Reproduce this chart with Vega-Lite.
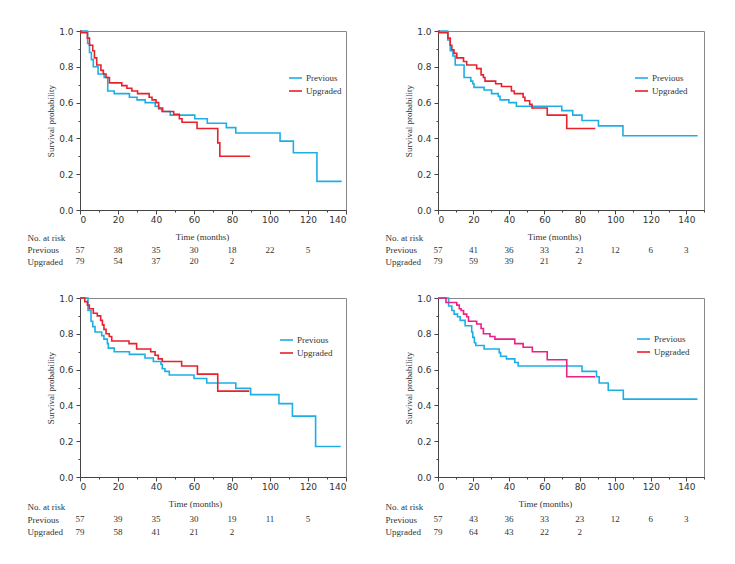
{
"$schema": "https://vega.github.io/schema/vega-lite/v6.json",
"padding": {"left": 27, "top": 26, "right": 5, "bottom": 5},
"background": "white",
"resolve": {"scale": {"color": "independent"}, "legend": {"color": "independent"}},
"datasets": {
"km1": [
{"g":"Previous","t":0,"s":1},{"g":"Previous","t":4,"s":0.93},{"g":"Previous","t":5,"s":0.88},{"g":"Previous","t":6,"s":0.84},{"g":"Previous","t":7,"s":0.8},{"g":"Previous","t":9.5,"s":0.76},{"g":"Previous","t":12.7,"s":0.74},{"g":"Previous","t":14.6,"s":0.665},{"g":"Previous","t":18,"s":0.65},{"g":"Previous","t":26,"s":0.63},{"g":"Previous","t":30,"s":0.615},{"g":"Previous","t":34.3,"s":0.6},{"g":"Previous","t":39.6,"s":0.58},{"g":"Previous","t":41.4,"s":0.565},{"g":"Previous","t":43,"s":0.55},{"g":"Previous","t":47.5,"s":0.53},{"g":"Previous","t":60.4,"s":0.51},{"g":"Previous","t":67,"s":0.485},{"g":"Previous","t":77,"s":0.46},{"g":"Previous","t":82,"s":0.43},{"g":"Previous","t":105.3,"s":0.385},{"g":"Previous","t":112.3,"s":0.32},{"g":"Previous","t":124.7,"s":0.16},{"g":"Previous","t":137.7,"s":0.16},
{"g":"Upgraded","t":0,"s":1},{"g":"Upgraded","t":0.5,"s":0.99},{"g":"Upgraded","t":3.9,"s":0.96},{"g":"Upgraded","t":5,"s":0.92},{"g":"Upgraded","t":6.7,"s":0.89},{"g":"Upgraded","t":7.6,"s":0.85},{"g":"Upgraded","t":8.8,"s":0.81},{"g":"Upgraded","t":11,"s":0.78},{"g":"Upgraded","t":12.3,"s":0.76},{"g":"Upgraded","t":13.7,"s":0.74},{"g":"Upgraded","t":15.5,"s":0.71},{"g":"Upgraded","t":22,"s":0.695},{"g":"Upgraded","t":24.7,"s":0.68},{"g":"Upgraded","t":27.3,"s":0.665},{"g":"Upgraded","t":30.3,"s":0.65},{"g":"Upgraded","t":36.4,"s":0.63},{"g":"Upgraded","t":37.9,"s":0.615},{"g":"Upgraded","t":40,"s":0.6},{"g":"Upgraded","t":41.4,"s":0.57},{"g":"Upgraded","t":43.5,"s":0.55},{"g":"Upgraded","t":49.3,"s":0.535},{"g":"Upgraded","t":52.3,"s":0.51},{"g":"Upgraded","t":53.7,"s":0.49},{"g":"Upgraded","t":61.6,"s":0.455},{"g":"Upgraded","t":72.5,"s":0.375},{"g":"Upgraded","t":73.6,"s":0.3},{"g":"Upgraded","t":89.5,"s":0.3}
],
"km2": [
{"g":"Previous","t":0,"s":1},{"g":"Previous","t":5.5,"s":0.95},{"g":"Previous","t":6.9,"s":0.89},{"g":"Previous","t":8.4,"s":0.86},{"g":"Previous","t":9.7,"s":0.81},{"g":"Previous","t":14.7,"s":0.74},{"g":"Previous","t":18.5,"s":0.72},{"g":"Previous","t":19.6,"s":0.705},{"g":"Previous","t":20.3,"s":0.685},{"g":"Previous","t":26,"s":0.67},{"g":"Previous","t":30.2,"s":0.65},{"g":"Previous","t":34,"s":0.635},{"g":"Previous","t":35,"s":0.615},{"g":"Previous","t":40,"s":0.6},{"g":"Previous","t":44.2,"s":0.58},{"g":"Previous","t":69.8,"s":0.555},{"g":"Previous","t":76,"s":0.53},{"g":"Previous","t":81.2,"s":0.5},{"g":"Previous","t":90.5,"s":0.47},{"g":"Previous","t":104.3,"s":0.415},{"g":"Previous","t":146.4,"s":0.415},
{"g":"Upgraded","t":0,"s":1},{"g":"Upgraded","t":0.5,"s":0.99},{"g":"Upgraded","t":5.6,"s":0.96},{"g":"Upgraded","t":6.9,"s":0.92},{"g":"Upgraded","t":7.8,"s":0.895},{"g":"Upgraded","t":9,"s":0.875},{"g":"Upgraded","t":10.6,"s":0.85},{"g":"Upgraded","t":14.4,"s":0.83},{"g":"Upgraded","t":16.2,"s":0.81},{"g":"Upgraded","t":21.8,"s":0.79},{"g":"Upgraded","t":24.3,"s":0.755},{"g":"Upgraded","t":25.6,"s":0.74},{"g":"Upgraded","t":26.5,"s":0.72},{"g":"Upgraded","t":32.5,"s":0.705},{"g":"Upgraded","t":35.8,"s":0.69},{"g":"Upgraded","t":41.4,"s":0.665},{"g":"Upgraded","t":43,"s":0.65},{"g":"Upgraded","t":48,"s":0.63},{"g":"Upgraded","t":49,"s":0.61},{"g":"Upgraded","t":51.7,"s":0.59},{"g":"Upgraded","t":53,"s":0.57},{"g":"Upgraded","t":61.6,"s":0.53},{"g":"Upgraded","t":72.6,"s":0.455},{"g":"Upgraded","t":88.7,"s":0.455}
],
"km3": [
{"g":"Previous","t":0,"s":1},{"g":"Previous","t":4.2,"s":0.93},{"g":"Previous","t":5.8,"s":0.87},{"g":"Previous","t":6.7,"s":0.84},{"g":"Previous","t":7.9,"s":0.81},{"g":"Previous","t":11.4,"s":0.79},{"g":"Previous","t":12.6,"s":0.77},{"g":"Previous","t":14.4,"s":0.745},{"g":"Previous","t":14.9,"s":0.72},{"g":"Previous","t":18,"s":0.7},{"g":"Previous","t":26,"s":0.685},{"g":"Previous","t":34.2,"s":0.665},{"g":"Previous","t":38.6,"s":0.645},{"g":"Previous","t":42.6,"s":0.63},{"g":"Previous","t":43.3,"s":0.605},{"g":"Previous","t":44.7,"s":0.59},{"g":"Previous","t":47,"s":0.57},{"g":"Previous","t":60,"s":0.55},{"g":"Previous","t":66.7,"s":0.525},{"g":"Previous","t":82,"s":0.495},{"g":"Previous","t":89.8,"s":0.46},{"g":"Previous","t":104.7,"s":0.41},{"g":"Previous","t":111.8,"s":0.34},{"g":"Previous","t":124,"s":0.17},{"g":"Previous","t":137.2,"s":0.17},
{"g":"Upgraded","t":0,"s":1},{"g":"Upgraded","t":2.5,"s":0.98},{"g":"Upgraded","t":3.9,"s":0.96},{"g":"Upgraded","t":4.9,"s":0.94},{"g":"Upgraded","t":7,"s":0.915},{"g":"Upgraded","t":9.1,"s":0.9},{"g":"Upgraded","t":10.9,"s":0.875},{"g":"Upgraded","t":11.8,"s":0.85},{"g":"Upgraded","t":12.6,"s":0.825},{"g":"Upgraded","t":13.7,"s":0.8},{"g":"Upgraded","t":15.4,"s":0.785},{"g":"Upgraded","t":16.7,"s":0.76},{"g":"Upgraded","t":25.8,"s":0.745},{"g":"Upgraded","t":29.8,"s":0.715},{"g":"Upgraded","t":37.2,"s":0.7},{"g":"Upgraded","t":39.5,"s":0.68},{"g":"Upgraded","t":41.2,"s":0.66},{"g":"Upgraded","t":43.3,"s":0.645},{"g":"Upgraded","t":53.5,"s":0.62},{"g":"Upgraded","t":61.8,"s":0.575},{"g":"Upgraded","t":72.5,"s":0.48},{"g":"Upgraded","t":89.1,"s":0.48}
],
"km4": [
{"g":"Previous","t":0,"s":1},{"g":"Previous","t":6,"s":0.955},{"g":"Previous","t":7.8,"s":0.93},{"g":"Previous","t":9.1,"s":0.91},{"g":"Previous","t":11,"s":0.895},{"g":"Previous","t":12.5,"s":0.875},{"g":"Previous","t":15.3,"s":0.845},{"g":"Previous","t":19,"s":0.81},{"g":"Previous","t":19.6,"s":0.78},{"g":"Previous","t":20.5,"s":0.75},{"g":"Previous","t":21.3,"s":0.735},{"g":"Previous","t":26,"s":0.715},{"g":"Previous","t":34.5,"s":0.695},{"g":"Previous","t":35.3,"s":0.675},{"g":"Previous","t":38.6,"s":0.66},{"g":"Previous","t":43.3,"s":0.64},{"g":"Previous","t":45.2,"s":0.62},{"g":"Previous","t":81.2,"s":0.59},{"g":"Previous","t":89.4,"s":0.56},{"g":"Previous","t":90.9,"s":0.525},{"g":"Previous","t":96,"s":0.485},{"g":"Previous","t":104.5,"s":0.435},{"g":"Previous","t":146.3,"s":0.435},
{"g":"Upgraded","t":0,"s":1},{"g":"Upgraded","t":4.5,"s":0.975},{"g":"Upgraded","t":10.6,"s":0.96},{"g":"Upgraded","t":12,"s":0.94},{"g":"Upgraded","t":13,"s":0.93},{"g":"Upgraded","t":14.4,"s":0.91},{"g":"Upgraded","t":16.2,"s":0.895},{"g":"Upgraded","t":17.2,"s":0.87},{"g":"Upgraded","t":21.8,"s":0.855},{"g":"Upgraded","t":24.3,"s":0.83},{"g":"Upgraded","t":25.6,"s":0.8},{"g":"Upgraded","t":29.3,"s":0.785},{"g":"Upgraded","t":32.1,"s":0.77},{"g":"Upgraded","t":43.3,"s":0.745},{"g":"Upgraded","t":48,"s":0.725},{"g":"Upgraded","t":53.2,"s":0.7},{"g":"Upgraded","t":61.6,"s":0.655},{"g":"Upgraded","t":72.6,"s":0.56},{"g":"Upgraded","t":88.7,"s":0.56}
],
"risk1": [
{"row":"Previous","t":0,"n":57},{"row":"Previous","t":20,"n":38},{"row":"Previous","t":40,"n":35},{"row":"Previous","t":60,"n":30},{"row":"Previous","t":80,"n":18},{"row":"Previous","t":100,"n":22},{"row":"Previous","t":120,"n":5},
{"row":"Upgraded","t":0,"n":79},{"row":"Upgraded","t":20,"n":54},{"row":"Upgraded","t":40,"n":37},{"row":"Upgraded","t":60,"n":20},{"row":"Upgraded","t":80,"n":2}
],
"risk2": [
{"row":"Previous","t":0,"n":57},{"row":"Previous","t":20,"n":41},{"row":"Previous","t":40,"n":36},{"row":"Previous","t":60,"n":33},{"row":"Previous","t":80,"n":21},{"row":"Previous","t":100,"n":12},{"row":"Previous","t":120,"n":6},{"row":"Previous","t":140,"n":3},
{"row":"Upgraded","t":0,"n":79},{"row":"Upgraded","t":20,"n":59},{"row":"Upgraded","t":40,"n":39},{"row":"Upgraded","t":60,"n":21},{"row":"Upgraded","t":80,"n":2}
],
"risk3": [
{"row":"Previous","t":0,"n":57},{"row":"Previous","t":20,"n":39},{"row":"Previous","t":40,"n":35},{"row":"Previous","t":60,"n":30},{"row":"Previous","t":80,"n":19},{"row":"Previous","t":100,"n":11},{"row":"Previous","t":120,"n":5},
{"row":"Upgraded","t":0,"n":79},{"row":"Upgraded","t":20,"n":58},{"row":"Upgraded","t":40,"n":41},{"row":"Upgraded","t":60,"n":21},{"row":"Upgraded","t":80,"n":2}
],
"risk4": [
{"row":"Previous","t":0,"n":57},{"row":"Previous","t":20,"n":43},{"row":"Previous","t":40,"n":36},{"row":"Previous","t":60,"n":33},{"row":"Previous","t":80,"n":23},{"row":"Previous","t":100,"n":12},{"row":"Previous","t":120,"n":6},{"row":"Previous","t":140,"n":3},
{"row":"Upgraded","t":0,"n":79},{"row":"Upgraded","t":20,"n":64},{"row":"Upgraded","t":40,"n":43},{"row":"Upgraded","t":60,"n":22},{"row":"Upgraded","t":80,"n":2}
]
},
"spacing": 25,
"vconcat": [
{"resolve": {"scale": {"color": "independent"}, "legend": {"color": "independent"}}, "spacing": 38, "hconcat": [
 {"spacing": 7, "vconcat": [
  {"width": 266, "height": 179, "data": {"name": "km1"},
   "layer": [
    {"transform": [{"filter": "datum.g === 'Previous'"}],
     "mark": {"type": "line", "interpolate": "step-after", "strokeWidth": 1.6},
     "encoding": {
      "x": {"field": "t", "type": "quantitative", "scale": {"domain": [0, 140], "nice": false}, "axis": {"orient": "bottom", "values": [0,20,40,60,80,100,120,140], "tickSize": 4, "labelPadding": 1, "title": null}},
      "y": {"field": "s", "type": "quantitative", "scale": {"domain": [0, 1], "nice": false}, "axis": {"orient": "left", "values": [0,0.2,0.4,0.6,0.8,1], "format": ".1f", "tickSize": 4, "labelPadding": 3, "title": "Survival probability", "titlePadding": 3}},
      "color": {"field": "g", "type": "nominal", "scale": {"domain": ["Previous", "Upgraded"], "range": ["#1eaee6", "#e8212b"]},
       "legend": {"orient": "none", "legendX": 208, "legendY": 39.5, "title": null, "symbolType": "stroke", "symbolSize": 169, "symbolStrokeWidth": 1.6, "labelFont": "Liberation Serif", "labelFontSize": 9, "labelColor": "#333", "rowPadding": 0, "padding": 0, "labelOffset": 3}}
     }},
    {"transform": [{"filter": "datum.g === 'Upgraded'"}],
     "mark": {"type": "line", "interpolate": "step-after", "strokeWidth": 1.6},
     "encoding": {
      "x": {"field": "t", "type": "quantitative", "axis": {"orient": "bottom", "values": [10,30,50,70,90,110,130], "tickSize": 2, "labels": false, "domain": false, "title": null}},
      "y": {"field": "s", "type": "quantitative", "axis": {"orient": "left", "values": [0.1,0.3,0.5,0.7,0.9], "tickSize": 2, "labels": false, "domain": false, "title": null}},
      "color": {"field": "g", "type": "nominal"}
     }}
   ],
   "resolve": {"axis": {"x": "independent", "y": "independent"}}
  },
  {"width": 266, "height": {"step": 11.7}, "data": {"name": "risk1"}, "view": {"stroke": null},
   "mark": {"type": "text", "font": "Liberation Serif", "fontSize": 9, "color": "#333"},
   "encoding": {
    "x": {"field": "t", "type": "quantitative", "scale": {"domain": [0, 140], "nice": false}, "axis": {"orient": "top", "labels": false, "ticks": false, "domain": false, "title": "Time (months)", "titleX": 122, "titleY": 4, "titleBaseline": "middle", "titleAlign": "center"}},
    "y": {"field": "row", "type": "nominal", "scale": {"domain": ["No. at risk", "Previous", "Upgraded"]}, "axis": {"title": null, "domain": false, "ticks": false, "tickSize": 0, "labelAlign": "left", "labelPadding": 53, "labelFont": "Liberation Serif", "labelFontSize": 9, "labelColor": "#333"}},
    "text": {"field": "n", "type": "nominal"}
   }}
 ]},
 {"spacing": 7, "vconcat": [
  {"width": 266, "height": 179, "data": {"name": "km2"},
   "layer": [
    {"transform": [{"filter": "datum.g === 'Previous'"}],
     "mark": {"type": "line", "interpolate": "step-after", "strokeWidth": 1.6},
     "encoding": {
      "x": {"field": "t", "type": "quantitative", "scale": {"domain": [0, 150], "nice": false}, "axis": {"orient": "bottom", "values": [0,20,40,60,80,100,120,140], "tickSize": 4, "labelPadding": 1, "title": null}},
      "y": {"field": "s", "type": "quantitative", "scale": {"domain": [0, 1], "nice": false}, "axis": {"orient": "left", "values": [0,0.2,0.4,0.6,0.8,1], "format": ".1f", "tickSize": 4, "labelPadding": 3, "title": "Survival probability", "titlePadding": 3}},
      "color": {"field": "g", "type": "nominal", "scale": {"domain": ["Previous", "Upgraded"], "range": ["#1eaee6", "#e8212b"]},
       "legend": {"orient": "none", "legendX": 196, "legendY": 39.5, "title": null, "symbolType": "stroke", "symbolSize": 169, "symbolStrokeWidth": 1.6, "labelFont": "Liberation Serif", "labelFontSize": 9, "labelColor": "#333", "rowPadding": 0, "padding": 0, "labelOffset": 3}}
     }},
    {"transform": [{"filter": "datum.g === 'Upgraded'"}],
     "mark": {"type": "line", "interpolate": "step-after", "strokeWidth": 1.6},
     "encoding": {
      "x": {"field": "t", "type": "quantitative", "axis": {"orient": "bottom", "values": [10,30,50,70,90,110,130,150], "tickSize": 2, "labels": false, "domain": false, "title": null}},
      "y": {"field": "s", "type": "quantitative", "axis": {"orient": "left", "values": [0.1,0.3,0.5,0.7,0.9], "tickSize": 2, "labels": false, "domain": false, "title": null}},
      "color": {"field": "g", "type": "nominal"}
     }}
   ],
   "resolve": {"axis": {"x": "independent", "y": "independent"}}
  },
  {"width": 266, "height": {"step": 11.7}, "data": {"name": "risk2"}, "view": {"stroke": null},
   "mark": {"type": "text", "font": "Liberation Serif", "fontSize": 9, "color": "#333"},
   "encoding": {
    "x": {"field": "t", "type": "quantitative", "scale": {"domain": [0, 150], "nice": false}, "axis": {"orient": "top", "labels": false, "ticks": false, "domain": false, "title": "Time (months)", "titleX": 116, "titleY": 4, "titleBaseline": "middle", "titleAlign": "center"}},
    "y": {"field": "row", "type": "nominal", "scale": {"domain": ["No. at risk", "Previous", "Upgraded"]}, "axis": {"title": null, "domain": false, "ticks": false, "tickSize": 0, "labelAlign": "left", "labelPadding": 53, "labelFont": "Liberation Serif", "labelFontSize": 9, "labelColor": "#333"}},
    "text": {"field": "n", "type": "nominal"}
   }}
 ]}
]},
{"resolve": {"scale": {"color": "independent"}, "legend": {"color": "independent"}}, "spacing": 38, "hconcat": [
 {"spacing": 6.5, "vconcat": [
  {"width": 266, "height": 179, "data": {"name": "km3"},
   "layer": [
    {"transform": [{"filter": "datum.g === 'Previous'"}],
     "mark": {"type": "line", "interpolate": "step-after", "strokeWidth": 1.6},
     "encoding": {
      "x": {"field": "t", "type": "quantitative", "scale": {"domain": [0, 140], "nice": false}, "axis": {"orient": "bottom", "values": [0,20,40,60,80,100,120,140], "tickSize": 4, "labelPadding": 1, "title": null}},
      "y": {"field": "s", "type": "quantitative", "scale": {"domain": [0, 1], "nice": false}, "axis": {"orient": "left", "values": [0,0.2,0.4,0.6,0.8,1], "format": ".1f", "tickSize": 4, "labelPadding": 3, "title": "Survival probability", "titlePadding": 3}},
      "color": {"field": "g", "type": "nominal", "scale": {"domain": ["Previous", "Upgraded"], "range": ["#1eaee6", "#e8212b"]},
       "legend": {"orient": "none", "legendX": 199, "legendY": 34.5, "title": null, "symbolType": "stroke", "symbolSize": 169, "symbolStrokeWidth": 1.6, "labelFont": "Liberation Serif", "labelFontSize": 9, "labelColor": "#333", "rowPadding": 0, "padding": 0, "labelOffset": 3}}
     }},
    {"transform": [{"filter": "datum.g === 'Upgraded'"}],
     "mark": {"type": "line", "interpolate": "step-after", "strokeWidth": 1.6},
     "encoding": {
      "x": {"field": "t", "type": "quantitative", "axis": {"orient": "bottom", "values": [10,30,50,70,90,110,130], "tickSize": 2, "labels": false, "domain": false, "title": null}},
      "y": {"field": "s", "type": "quantitative", "axis": {"orient": "left", "values": [0.1,0.3,0.5,0.7,0.9], "tickSize": 2, "labels": false, "domain": false, "title": null}},
      "color": {"field": "g", "type": "nominal"}
     }}
   ],
   "resolve": {"axis": {"x": "independent", "y": "independent"}}
  },
  {"width": 266, "height": {"step": 12.5}, "data": {"name": "risk3"}, "view": {"stroke": null},
   "mark": {"type": "text", "font": "Liberation Serif", "fontSize": 9, "color": "#333"},
   "encoding": {
    "x": {"field": "t", "type": "quantitative", "scale": {"domain": [0, 140], "nice": false}, "axis": {"orient": "top", "labels": false, "ticks": false, "domain": false, "title": "Time (months)", "titleX": 115, "titleY": 2.5, "titleBaseline": "middle", "titleAlign": "center"}},
    "y": {"field": "row", "type": "nominal", "scale": {"domain": ["No. at risk", "Previous", "Upgraded"]}, "axis": {"title": null, "domain": false, "ticks": false, "tickSize": 0, "labelAlign": "left", "labelPadding": 53, "labelFont": "Liberation Serif", "labelFontSize": 9, "labelColor": "#333"}},
    "text": {"field": "n", "type": "nominal"}
   }}
 ]},
 {"spacing": 6.5, "vconcat": [
  {"width": 266, "height": 179, "data": {"name": "km4"},
   "layer": [
    {"transform": [{"filter": "datum.g === 'Previous'"}],
     "mark": {"type": "line", "interpolate": "step-after", "strokeWidth": 1.6},
     "encoding": {
      "x": {"field": "t", "type": "quantitative", "scale": {"domain": [0, 150], "nice": false}, "axis": {"orient": "bottom", "values": [0,20,40,60,80,100,120,140], "tickSize": 4, "labelPadding": 1, "title": null}},
      "y": {"field": "s", "type": "quantitative", "scale": {"domain": [0, 1], "nice": false}, "axis": {"orient": "left", "values": [0,0.2,0.4,0.6,0.8,1], "format": ".1f", "tickSize": 4, "labelPadding": 3, "title": "Survival probability", "titlePadding": 3}},
      "color": {"field": "g", "type": "nominal", "scale": {"domain": ["Previous", "Upgraded"], "range": ["#1eaee6", "#e8212b"]},
       "legend": {"orient": "none", "legendX": 198, "legendY": 33.5, "title": null, "symbolType": "stroke", "symbolSize": 169, "symbolStrokeWidth": 1.6, "labelFont": "Liberation Serif", "labelFontSize": 9, "labelColor": "#333", "rowPadding": 0, "padding": 0, "labelOffset": 3}}
     }},
    {"transform": [{"filter": "datum.g === 'Upgraded'"}],
     "mark": {"type": "line", "interpolate": "step-after", "strokeWidth": 1.6, "color": "#ea2189"},
     "encoding": {
      "x": {"field": "t", "type": "quantitative", "axis": {"orient": "bottom", "values": [10,30,50,70,90,110,130,150], "tickSize": 2, "labels": false, "domain": false, "title": null}},
      "y": {"field": "s", "type": "quantitative", "axis": {"orient": "left", "values": [0.1,0.3,0.5,0.7,0.9], "tickSize": 2, "labels": false, "domain": false, "title": null}}
     }}
   ],
   "resolve": {"axis": {"x": "independent", "y": "independent"}}
  },
  {"width": 266, "height": {"step": 12.5}, "data": {"name": "risk4"}, "view": {"stroke": null},
   "mark": {"type": "text", "font": "Liberation Serif", "fontSize": 9, "color": "#333"},
   "encoding": {
    "x": {"field": "t", "type": "quantitative", "scale": {"domain": [0, 150], "nice": false}, "axis": {"orient": "top", "labels": false, "ticks": false, "domain": false, "title": "Time (months)", "titleX": 107, "titleY": 2.5, "titleBaseline": "middle", "titleAlign": "center"}},
    "y": {"field": "row", "type": "nominal", "scale": {"domain": ["No. at risk", "Previous", "Upgraded"]}, "axis": {"title": null, "domain": false, "ticks": false, "tickSize": 0, "labelAlign": "left", "labelPadding": 53, "labelFont": "Liberation Serif", "labelFontSize": 9, "labelColor": "#333"}},
    "text": {"field": "n", "type": "nominal"}
   }}
 ]}
]}
],
"config": {
 "view": {"stroke": "#888", "strokeWidth": 1},
 "axis": {"grid": false, "domainColor": "#444", "tickColor": "#444", "labelColor": "#333", "labelFont": "DejaVu Sans", "labelFontSize": 9, "titleFont": "Liberation Serif", "titleFontSize": 9, "titleFontWeight": "normal", "titleColor": "#333"},
 "text": {"font": "Liberation Serif"}
}
}
